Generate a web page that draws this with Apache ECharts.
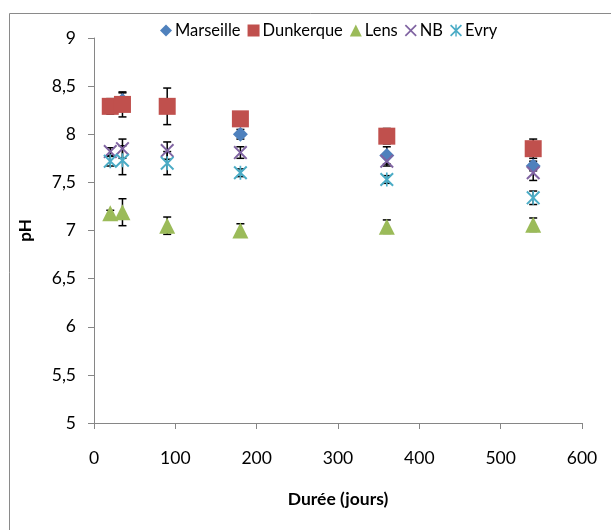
<!DOCTYPE html>
<html>
<head>
<meta charset="utf-8">
<script src="https://cdn.jsdelivr.net/npm/echarts@6/dist/echarts.min.js"></script>
<style>
  html, body { margin: 0; padding: 0; background: #fff; }
  #chart { width: 611px; height: 530px; }
</style>
</head>
<body>
<div id="chart"></div>
<script>
const days = [20, 35, 90, 180, 360, 540];

const marseille = [8.30, 8.35, 8.30, 8.00, 7.78, 7.67];
const dunkerque = [8.29, 8.31, 8.29, 8.16, 7.98, 7.85];
const lens = [7.18, 7.19, 7.05, 7.00, 7.04, 7.06];
const nb = [7.82, 7.85, 7.83, 7.81, 7.72, 7.60];
const evry = [7.72, 7.73, 7.70, 7.60, 7.53, 7.34];

// half-width of the error bars
const marseilleErr = [0.04, 0.08, 0.05, 0.05, 0.09, 0.05];
const dunkerqueErr = [0.08, 0.13, 0.19, 0.05, 0.08, 0.10];
const lensErr = [0.03, 0.14, 0.09, 0.07, 0.07, 0.07];
const nbErr = [0.04, 0.10, 0.09, 0.06, 0.05, 0.08];
const evryErr = [0.05, 0.15, 0.12, 0.04, 0.04, 0.07];

const xSymbol = 'path://M0,1L1,0L5,4L9,0L10,1L6,5L10,9L9,10L5,6L1,10L0,9L4,5Z';
const starSymbol = 'path://M0,1L1,0L5,4L9,0L10,1L6,5L10,9L9,10L5,6L1,10L0,9L4,5Z M4.4,0L5.6,0L5.6,10L4.4,10Z';

const chart = echarts.init(document.getElementById('chart'));

const font = 'Lato, "Open Sans", sans-serif';

function pts(vals) {
  return days.map((d, i) => [d, vals[i]]);
}
function errs(vals, e) {
  return days.map((d, i) => [d, vals[i] - e[i], vals[i] + e[i]]);
}

// error bars go in before the markers of the same series (same z, series order wins)
function errorBar(name, vals, e) {
  return {
    name: name + ' (err)',
    type: 'custom',
    z: 3,
    silent: true,
    renderItem: (params, api) => {
      const x = api.value(0);
      const lo = api.coord([x, api.value(1)]);
      const hi = api.coord([x, api.value(2)]);
      const w = 4;
      const style = { stroke: '#000', lineWidth: 1.5 };
      return {
        type: 'group',
        children: [
          { type: 'line', shape: { x1: lo[0], y1: lo[1], x2: hi[0], y2: hi[1] }, style },
          { type: 'line', shape: { x1: lo[0] - w, y1: lo[1], x2: lo[0] + w, y2: lo[1] }, style },
          { type: 'line', shape: { x1: hi[0] - w, y1: hi[1], x2: hi[0] + w, y2: hi[1] }, style }
        ]
      };
    },
    data: errs(vals, e)
  };
}

function markers(name, symbol, size, color, vals) {
  return { name, type: 'scatter', symbol, symbolSize: size, z: 3, itemStyle: { color, opacity: 1 }, data: pts(vals) };
}

const option = {
  animation: false,
  backgroundColor: '#fff',
  graphic: [
    {
      type: 'rect',
      shape: { x: 9.5, y: 13.5, width: 640, height: 560 },
      style: { fill: 'none', stroke: '#8a8a8a', lineWidth: 1 },
      silent: true
    }
  ],
  legend: {
    top: 17,
    left: 155,
    itemWidth: 12,
    itemHeight: 12,
    itemGap: 7,
    textStyle: { fontFamily: font, fontSize: 16.5, color: '#000', padding: [0, 0, 0, -2] },
    data: [
      { name: 'Marseille', icon: 'diamond' },
      { name: 'Dunkerque', icon: 'rect' },
      { name: 'Lens', icon: 'triangle' },
      { name: 'NB', icon: xSymbol },
      { name: 'Evry', icon: starSymbol }
    ]
  },
  grid: { left: 94, right: 29, top: 38, bottom: 107 },
  xAxis: {
    type: 'value',
    min: 0,
    max: 600,
    interval: 100,
    name: 'Durée (jours)',
    nameLocation: 'middle',
    nameGap: 67,
    nameTextStyle: { fontFamily: font, fontSize: 17.5, fontWeight: 'bold', color: '#000' },
    axisLine: { lineStyle: { color: '#868686', width: 1 } },
    axisTick: { inside: false, length: 6, lineStyle: { color: '#868686' } },
    axisLabel: { fontFamily: font, fontSize: 17.5, color: '#000', margin: 26 },
    splitLine: { show: false }
  },
  yAxis: {
    type: 'value',
    min: 5,
    max: 9,
    interval: 0.5,
    name: 'pH',
    nameLocation: 'middle',
    nameGap: 60,
    nameTextStyle: { fontFamily: font, fontSize: 17, fontWeight: 'bold', color: '#000' },
    axisLine: { show: true, lineStyle: { color: '#868686', width: 1 } },
    axisTick: { show: true, length: 6, lineStyle: { color: '#868686' } },
    axisLabel: {
      fontFamily: font,
      fontSize: 17.5,
      color: '#000',
      margin: 18,
      formatter: v => String(v).replace('.', ',')
    },
    splitLine: { show: false }
  },
  series: [
    errorBar('Marseille', marseille, marseilleErr),
    markers('Marseille', 'diamond', 15, '#4F81BD', marseille),
    errorBar('Dunkerque', dunkerque, dunkerqueErr),
    markers('Dunkerque', 'rect', 17, '#C0504D', dunkerque),
    errorBar('Lens', lens, lensErr),
    markers('Lens', 'triangle', 16, '#9BBB59', lens),
    errorBar('NB', nb, nbErr),
    markers('NB', xSymbol, 14, '#8064A2', nb),
    errorBar('Evry', evry, evryErr),
    markers('Evry', starSymbol, 14, '#4BACC6', evry)
  ]
};

chart.setOption(option);
</script>
</body>
</html>
